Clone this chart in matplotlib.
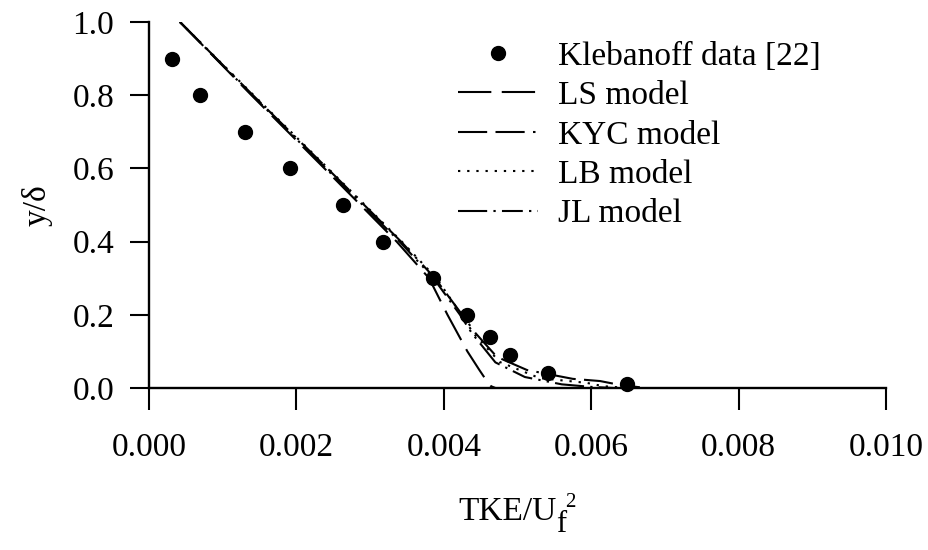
import numpy as np
import matplotlib
matplotlib.use('Agg')
import matplotlib.pyplot as plt

plt.rcParams['font.family'] = ['Liberation Serif', 'DejaVu Serif']

# Klebanoff data [22]
kleb_x = [0.00031, 0.00069, 0.00130, 0.00191, 0.00263, 0.00318, 0.00385,
          0.00431, 0.00463, 0.00490, 0.00541, 0.00649]
kleb_y = [0.90, 0.80, 0.70, 0.60, 0.50, 0.40, 0.30, 0.20, 0.14, 0.09, 0.04, 0.01]

# model curves
ls_y = [1.0, 0.8, 0.6, 0.4, 0.3, 0.2, 0.1, 0.05, 0.02, 0.005, 0.0]
ls_x = [0.00042, 0.00139, 0.00238, 0.00336, 0.00380, 0.00405, 0.00432,
        0.00448, 0.00458, 0.00464, 0.00470]

kyc_y = [1.0, 0.8, 0.6, 0.4, 0.3, 0.2, 0.15, 0.085, 0.049, 0.044, 0.025,
         0.019, 0.008, 0.002]
kyc_x = [0.00042, 0.00141, 0.00242, 0.00342, 0.00388, 0.00425, 0.00443,
         0.00472, 0.00513, 0.00526, 0.00575, 0.00612, 0.00640, 0.00666]

lb_y = [1.0, 0.8, 0.6, 0.4, 0.3, 0.2, 0.15, 0.071, 0.027, 0.014, 0.005, 0.0]
lb_x = [0.00042, 0.00142, 0.00243, 0.00343, 0.00390, 0.00424, 0.00440,
        0.00476, 0.00530, 0.00594, 0.00616, 0.00650]

jl_y = [1.0, 0.8, 0.6, 0.4, 0.3, 0.2, 0.15, 0.07, 0.03, 0.01, 0.003, 0.0]
jl_x = [0.00042, 0.00140, 0.00240, 0.00340, 0.00386, 0.00422, 0.00438,
        0.00470, 0.00510, 0.00560, 0.00600, 0.00630]

x_ticks = [0.000, 0.002, 0.004, 0.006, 0.008, 0.010]
y_ticks = [0.0, 0.2, 0.4, 0.6, 0.8, 1.0]

fig = plt.figure(figsize=(9.29, 5.5), dpi=100)
ax = fig.add_axes([149 / 929, 1 - 388 / 550, 737 / 929, 366 / 550])

lw = 1.5
ax.plot(kleb_x, kleb_y, 'o', color='black', markersize=10, label='Klebanoff data [22]',
        clip_on=False, zorder=5)
ax.plot(ls_x, ls_y, color='black', lw=lw, linestyle=(0, (16, 5)), label='LS model')
ax.plot(kyc_x, kyc_y, color='black', lw=lw,
        linestyle=(0, (14, 4, 14, 4, 1.2, 4)), label='KYC model')
ax.plot(lb_x, lb_y, color='black', lw=lw, linestyle=(0, (1.1, 3.3)), label='LB model')
ax.plot(jl_x, jl_y, color='black', lw=lw,
        linestyle=(0, (14, 3, 1.1, 3, 10, 3, 1.1, 3, 1.1, 3)), label='JL model')

ax.set_xlim(0, 0.010)
ax.set_ylim(0, 1.0)
ax.set_xticks(x_ticks)
ax.set_xticklabels([f'{v:.3f}' for v in x_ticks])
ax.set_yticks(y_ticks)
ax.set_yticklabels([f'{v:.1f}' for v in y_ticks])

for s in ['top', 'right']:
    ax.spines[s].set_visible(False)
for s in ['left', 'bottom']:
    ax.spines[s].set_linewidth(1.7)

ax.tick_params(axis='x', direction='out', length=16, width=1.5, pad=16, labelsize=24)
ax.tick_params(axis='y', direction='out', length=14, width=1.5, pad=11, labelsize=24)

# x label: TKE/U with subscript f and superscript 2
xl = ax.set_xlabel('TKE/U', fontsize=24, labelpad=24)
xl.set_x(0.486)
ax.annotate('f', xy=(1, 0), xycoords=xl, xytext=(0, -9), textcoords='offset points',
            fontsize=22, ha='left', va='bottom')
ax.annotate('2', xy=(1, 0), xycoords=xl, xytext=(6.5, 10.6), textcoords='offset points',
            fontsize=15, ha='left', va='bottom')
ax.set_ylabel('y/δ', fontsize=24, labelpad=14)

ax.legend(loc='upper left', bbox_to_anchor=(458 / 929, 1 - 41 / 550),
          bbox_transform=fig.transFigure, frameon=False, fontsize=24,
          handlelength=2.4, handletextpad=0.6, labelspacing=0.27,
          borderpad=0, borderaxespad=0)

plt.savefig('out.png', dpi=100)
